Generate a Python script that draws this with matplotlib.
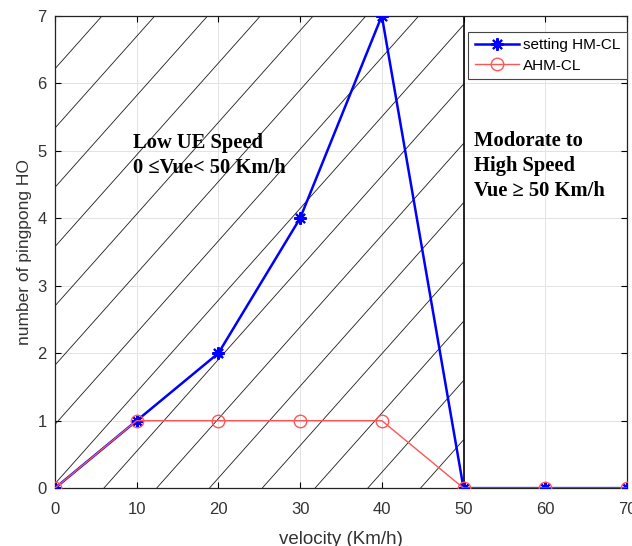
import matplotlib.pyplot as plt
import numpy as np

# Pingpong handover counts per UE velocity
velocity = [0, 10, 20, 30, 40, 50, 60, 70]
setting_hmcl = [0, 1, 2, 4, 7, 0, 0, 0]
ahm_cl = [0, 1, 1, 1, 1, 0, 0, 0]

x_ticks = [0, 10, 20, 30, 40, 50, 60, 70]
y_ticks = [0, 1, 2, 3, 4, 5, 6, 7]
speed_limit = 50

plt.rcParams['font.family'] = ['Liberation Sans', 'DejaVu Sans']

fig = plt.figure(figsize=(6.32, 5.46), dpi=100)
ax = fig.add_axes([0.087, 0.106, 0.905, 0.865])

# diagonal hatching over the low-speed region
slope = 0.136
for x0 in np.arange(-45.7, speed_limit, 6.46):
    xs = np.array([max(x0, 0), speed_limit])
    ax.plot(xs, slope * (xs - x0), color='#1a1a1a', lw=0.6, zorder=1,
            solid_capstyle='butt')
ax.axvline(speed_limit, color='black', lw=1.2, zorder=2)

ax.plot(velocity, setting_hmcl, color='blue', lw=1.8, marker=(8, 2, 0),
        markersize=9, markeredgewidth=1.5, label='setting HM-CL', zorder=3)
ax.plot(velocity, ahm_cl, color='#ff5555', lw=1.0, marker='o',
        markersize=9, markerfacecolor='none', markeredgewidth=1.0,
        label='AHM-CL', zorder=4)

ax.set_xlim(0, 70)
ax.set_ylim(0, 7)
ax.set_xticks(x_ticks)
ax.set_yticks(y_ticks)
ax.grid(True, color='#e3e3e3', lw=0.7, zorder=0)
ax.set_axisbelow(True)
ax.tick_params(direction='in', top=True, right=True, length=4,
               labelsize=12, labelcolor='#333333')
ax.tick_params(axis='x', pad=10)
ax.tick_params(axis='y', pad=6)
for s in ax.spines.values():
    s.set_color('#222222')
    s.set_linewidth(0.9)

ax.set_xlabel('velocity (Km/h)', fontsize=13.5, color='#333333', labelpad=10)
ax.set_ylabel('number of pingpong HO', fontsize=12.5, color='#333333', labelpad=4)

serif = ['Liberation Serif', 'DejaVu Serif']
ax.text(9.5, 5.27, 'Low UE Speed\n0 \u2264Vue< 50 Km/h', family=serif,
        fontweight='bold', fontsize=14.8, va='top', ha='left',
        linespacing=1.35, zorder=5)
ax.text(51.3, 5.30, 'Modorate to\nHigh Speed\nVue \u2265 50 Km/h', family=serif,
        fontweight='bold', fontsize=14.8, va='top', ha='left',
        linespacing=1.35, zorder=5)

leg = ax.legend(loc='upper right', bbox_to_anchor=(1.0, 1 - 16 / 472),
                borderaxespad=0, fontsize=11, handlelength=2.9,
                fancybox=False, framealpha=1, edgecolor='#444444',
                labelspacing=0.45, borderpad=0.4, handletextpad=0.3)
leg.get_frame().set_linewidth(0.8)
leg.set_zorder(6)

fig.savefig('out.png', dpi=100)
